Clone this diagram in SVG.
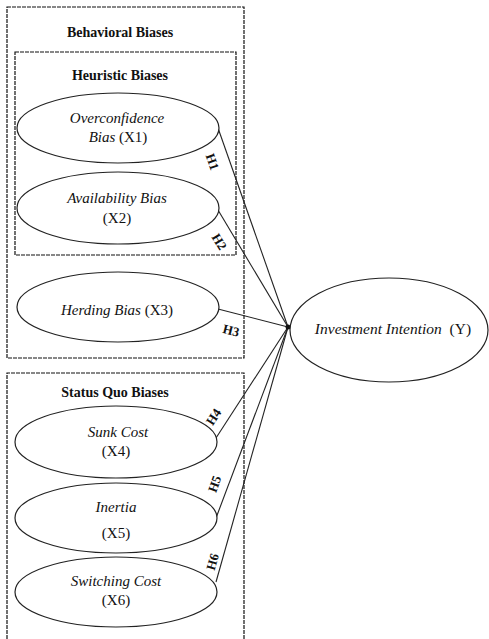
<svg xmlns="http://www.w3.org/2000/svg" width="489" height="639" viewBox="0 0 489 639">
<style>
.box{fill:none;stroke:#111;stroke-width:1.2;stroke-dasharray:4,1}
.ell{fill:#fff;stroke:#222;stroke-width:1.2}
.t{font-family:"Liberation Serif","Times New Roman",serif;font-size:15px;fill:#111;text-anchor:middle}
.i{font-style:italic}
.b{font-weight:bold;font-size:14px}
.h{font-family:"Liberation Serif","Times New Roman",serif;font-size:13px;font-weight:bold;fill:#111;text-anchor:middle}
.c{stroke:#222;stroke-width:1.1;fill:none}
</style>
<rect width="489" height="639" fill="#fff"/>
<g id="behavioral">
<rect class="box" x="7" y="7" width="237" height="351"/>
<text class="t b" x="120" y="37">Behavioral Biases</text>
</g>
<g id="heuristic">
<rect class="box" x="15" y="52" width="221" height="203"/>
<text class="t b" x="120" y="80">Heuristic Biases</text>
</g>
<g id="statusquo">
<path class="box" d="M7,639 V373 H244 V639"/>
<text class="t b" x="115" y="397">Status Quo Biases</text>
</g>
<g id="connectors">
<line class="c" x1="218" y1="128" x2="288" y2="327"/>
<line class="c" x1="218" y1="210" x2="288" y2="327"/>
<line class="c" x1="218" y1="309" x2="288" y2="327"/>
<line class="c" x1="216" y1="438" x2="288" y2="327"/>
<line class="c" x1="216" y1="518" x2="288" y2="327"/>
<line class="c" x1="216" y1="582" x2="288" y2="327"/>
<circle cx="288" cy="327" r="2.5" fill="#111"/>
<text class="h" transform="translate(212,162) rotate(70)" y="4">H1</text>
<text class="h" transform="translate(219,242) rotate(59)" y="4">H2</text>
<text class="h" transform="translate(231,331) rotate(14)" y="4">H3</text>
<text class="h" transform="translate(214,417) rotate(-57)" y="4">H4</text>
<text class="h" transform="translate(215,484) rotate(-70)" y="4">H5</text>
<text class="h" transform="translate(213,562) rotate(-74)" y="4">H6</text>
</g>
<g id="x1">
<ellipse class="ell" cx="118" cy="128" rx="101" ry="35"/>
<text class="t i" x="117" y="123">Overconfidence</text>
<text class="t" x="118" y="142"><tspan class="i">Bias</tspan> (X1)</text>
</g>
<g id="x2">
<ellipse class="ell" cx="118" cy="208" rx="101" ry="36"/>
<text class="t i" x="117" y="203">Availability Bias</text>
<text class="t" x="117" y="223">(X2)</text>
</g>
<g id="x3">
<ellipse class="ell" cx="118" cy="307" rx="101" ry="35"/>
<text class="t" x="117" y="315"><tspan class="i">Herding Bias</tspan> (X3)</text>
</g>
<g id="x4">
<ellipse class="ell" cx="116" cy="442" rx="101" ry="36"/>
<text class="t i" x="118" y="437">Sunk Cost</text>
<text class="t" x="116" y="456">(X4)</text>
</g>
<g id="x5">
<ellipse class="ell" cx="116" cy="518" rx="101" ry="35"/>
<text class="t i" x="116" y="512">Inertia</text>
<text class="t" x="116" y="538">(X5)</text>
</g>
<g id="x6">
<ellipse class="ell" cx="116" cy="592" rx="101" ry="35"/>
<text class="t i" x="116" y="586">Switching Cost</text>
<text class="t" x="116" y="605">(X6)</text>
</g>
<g id="y">
<ellipse class="ell" cx="389" cy="330" rx="99" ry="52"/>
<text class="t" x="393" y="334" style="font-size:15.5px"><tspan class="i">Investment Intention</tspan>&#160; (Y)</text>
</g>
</svg>
